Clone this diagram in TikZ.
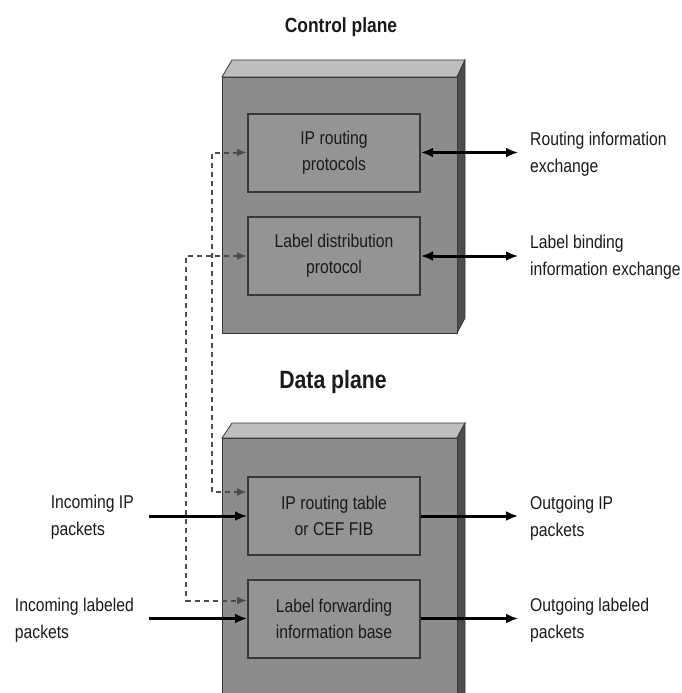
\documentclass[tikz,border=0pt]{standalone}
\usepackage{fontspec}
\setmainfont{Liberation Sans}[FakeStretch=0.85]
\usetikzlibrary{arrows.meta,calc}
\definecolor{faceG}{HTML}{8C8C8C}
\definecolor{topG}{HTML}{BEBEBE}
\definecolor{sideG}{HTML}{4C4C4C}
\definecolor{boxG}{HTML}{949494}
\definecolor{edgeG}{HTML}{383838}
\definecolor{inkG}{HTML}{1A1A1A}
\tikzset{
  face/.style={fill=faceG, draw=edgeG, line width=1pt},
  topface/.style={fill=topG, draw=edgeG, line width=0.8pt},
  sideface/.style={fill=sideG, draw=edgeG, line width=0.8pt},
  funcbox/.style={draw=edgeG, fill=boxG, line width=2pt, minimum width=172pt,
    minimum height=78pt, align=center, inner sep=0pt, text=inkG,
    font=\fontsize{18.5}{26}\selectfont},
  lbl/.style={align=left, inner sep=0pt, text=inkG, font=\fontsize{18.5}{27}\selectfont},
  title/.style={inner sep=0pt, text=inkG},
  flow/.style={line width=3pt, draw=black, -{Latex[length=12pt,width=10pt]}},
  bothflow/.style={line width=3pt, draw=black, {Latex[length=12pt,width=10pt]}-{Latex[length=12pt,width=10pt]}},
  ctrl/.style={line width=2pt, draw=black!70, dash pattern=on 5pt off 4pt,
    {Latex[length=10pt,width=8pt,fill=black!75]}-{Latex[length=10pt,width=8pt,fill=black!75]}},
}
\begin{document}
\begin{tikzpicture}[x=1pt,y=-1pt]
\useasboundingbox (0,0) rectangle (681,693);
\clip (0,0) rectangle (681,693);

% control plane block
\path[topface] (222,77) -- (232,60) -- (465,60) -- (457,77) -- cycle;
\path[sideface] (457,77) -- (465,60) -- (465,318) -- (457,333) -- cycle;
\path[face] (222,77) rectangle (457,333);

% data plane block (runs past the bottom edge)
\path[topface] (222,438) -- (232,423) -- (465,423) -- (457,438) -- cycle;
\path[sideface] (457,438) -- (465,423) -- (465,720) -- (457,735) -- cycle;
\path[face] (222,438) rectangle (457,735);

% titles
\node[title, font=\bfseries\fontsize{20.5}{24}\selectfont, anchor=base] (cptitle) at (341,33) {Control plane};
\node[title, font=\bfseries\fontsize{25}{28}\selectfont, anchor=base] (dptitle) at (333,388) {Data plane};

% functional boxes
\node[funcbox] (irp) at (334,152.5) {IP routing\\protocols};
\node[funcbox] (ldp) at (334,256) {Label distribution\\protocol};
\node[funcbox] (ipt) at (334,516) {IP routing table\\or CEF FIB};
\node[funcbox] (lfib) at (334,618.5) {Label forwarding\\information base};

% outside labels
\node[lbl, anchor=west] (rie) at (530,154) {Routing information\\exchange};
\node[lbl, anchor=west] (lbe) at (530,257) {Label binding\\information exchange};
\node[lbl, anchor=west] (oip) at (530,518) {Outgoing IP\\packets};
\node[lbl, anchor=west] (olp) at (530,620) {Outgoing labeled\\packets};
\node[lbl, anchor=east] (iip) at (134,517) {Incoming IP\\packets};
\node[lbl, anchor=east] (ilp) at (134,620) {Incoming labeled\\packets};

% connector end points
\coordinate (rieE) at (518,152.5);
\coordinate (lbeE) at (518,256);
\coordinate (oipE) at (518,516);
\coordinate (olpE) at (518,618.5);
\coordinate (iipS) at (149,516);
\coordinate (ilpS) at (149,618.5);

% control-plane exchanges
\draw[bothflow] (irp.east) -- (rieE);
\draw[bothflow] (ldp.east) -- (lbeE);

% packet flows
\draw[flow] (iipS) -- (ipt.west);
\draw[flow] (ilpS) -- (lfib.west);
\draw[flow] (ipt.east) -- (oipE);
\draw[flow] (lfib.east) -- (olpE);

% control plane populating the data plane tables
\draw[ctrl] (irp.west) -- ++(-35,0) |- ([yshift=24pt]ipt.west);
\draw[ctrl] (ldp.west) -- ++(-61,0) |- ([yshift=18pt]lfib.west);
\end{tikzpicture}
\end{document}
